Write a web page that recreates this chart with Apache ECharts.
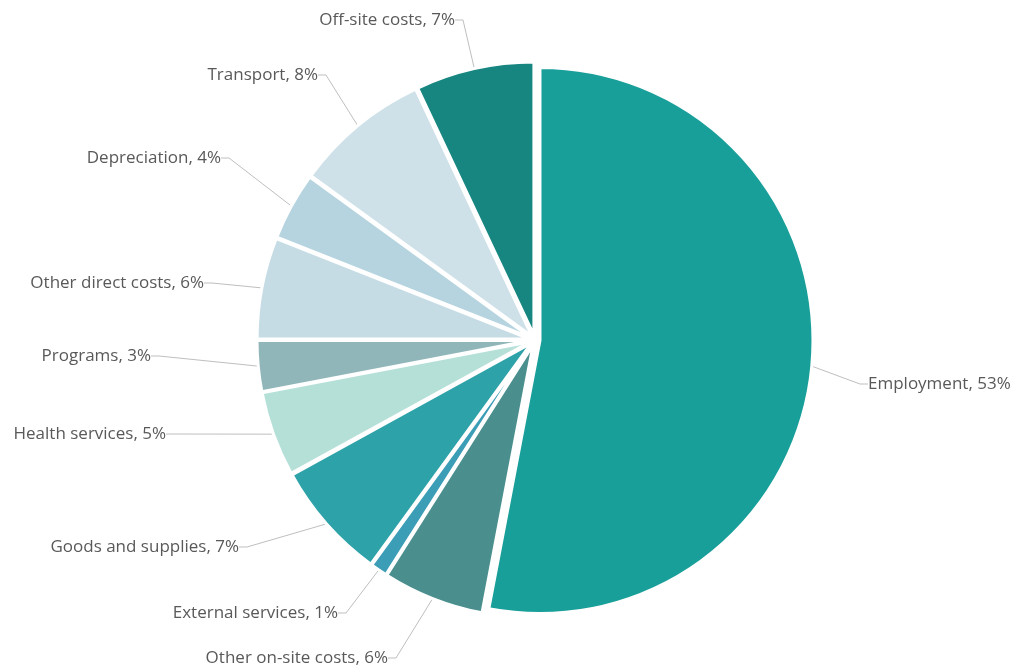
<!DOCTYPE html>
<html>
<head>
<meta charset="utf-8">
<style>
  html, body { margin: 0; padding: 0; background: #ffffff; }
  #chart { width: 1014px; height: 668px; }
</style>
<script src="https://cdn.jsdelivr.net/npm/echarts@6/dist/echarts.min.js"></script>
</head>
<body>
<div id="chart"></div>
<script>
// Cost categories, clockwise from 12 o'clock
const categories = [
  'Employment',
  'Other on-site costs',
  'External services',
  'Goods and supplies',
  'Health services',
  'Programs',
  'Other direct costs',
  'Depreciation',
  'Transport',
  'Off-site costs'
];

// Share of total costs (%)
const shares = [53, 6, 1, 7, 5, 3, 6, 4, 8, 7];

// Slice colours
const colors = [
  '#199f9a',
  '#4a8f8e',
  '#3c9db6',
  '#2ea2a9',
  '#b5e0d7',
  '#91b6ba',
  '#c6dce5',
  '#b6d4e0',
  '#cee1e9',
  '#188680'
];

// Label anchor points: [x, y, text alignment]
const labelSpots = [
  [868, 384, 'left'],
  [388, 658, 'right'],
  [338, 613, 'right'],
  [239, 547, 'right'],
  [166, 434, 'right'],
  [151, 356, 'right'],
  [204, 283, 'right'],
  [221, 158, 'right'],
  [318, 75, 'right'],
  [455, 20, 'right']
];

const CENTER = [535, 340];
const RADIUS = 273;
const EXPLODE = 5;

const chart = echarts.init(document.getElementById('chart'), null, { renderer: 'canvas' });

// Exploded slices
const sliceData = categories.map((name, i) => ({
  name: name,
  value: shares[i],
  selected: true,
  itemStyle: { color: colors[i] }
}));

// Same values again, used only to carry the outside labels and leader lines
const labelData = categories.map((name, i) => ({
  name: name,
  value: shares[i]
}));

chart.setOption({
  animation: false,
  backgroundColor: '#ffffff',
  series: [
    {
      type: 'pie',
      center: CENTER,
      radius: RADIUS,
      startAngle: 90,
      clockwise: true,
      selectedMode: 'multiple',
      selectedOffset: EXPLODE,
      emphasis: { disabled: true },
      silent: true,
      itemStyle: { borderColor: '#ffffff', borderWidth: 3 },
      label: { show: false },
      labelLine: { show: false },
      data: sliceData
    },
    {
      type: 'pie',
      center: CENTER,
      radius: RADIUS + EXPLODE,
      startAngle: 90,
      clockwise: true,
      silent: true,
      avoidLabelOverlap: false,
      emphasis: { disabled: true },
      itemStyle: { color: 'rgba(0,0,0,0)', borderWidth: 0 },
      label: {
        show: true,
        position: 'outside',
        formatter: p => p.name + ', ' + p.value + '%',
        fontFamily: 'Open Sans',
        fontSize: 17,
        color: '#595959'
      },
      labelLine: {
        show: true,
        length: 20,
        length2: 8,
        lineStyle: { color: '#bfbfbf', width: 1 }
      },
      labelLayout: function (params) {
        const s = labelSpots[params.dataIndex];
        return { x: s[0], y: s[1], align: s[2], verticalAlign: 'middle' };
      },
      data: labelData
    }
  ]
});
</script>
</body>
</html>
